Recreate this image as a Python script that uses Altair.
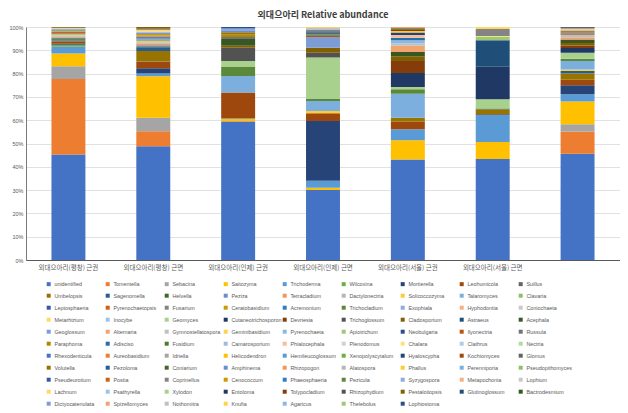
import colorsys
import altair as alt
import pandas as pd

# ---------------- data ----------------
GENERA = [
    "unidentified", "Tomentella", "Sebacina", "Saitozyma", "Trichoderma", "Wilcoxina", "Mortierella", "Leohumicola", "Suillus",
    "Umbelopsis", "Sagenomella", "Helvella", "Peziza", "Tetracladium", "Dactylonectria", "Solicoccozyma", "Talaromyces", "Clavaria",
    "Leptosphaeria", "Pyrenochaetopsis", "Fusarium", "Ceratobasidium", "Acremonium", "Trichocladium", "Exophiala", "Hyphodontia", "Coniochaeta",
    "Metarhizium", "Inocybe", "Geomyces", "Cutaneotrichosporon", "Devriesia", "Trichoglossum", "Cladosporium", "Astraeus", "Acephala",
    "Geoglossum", "Alternaria", "Gymnostellatospora", "Geminibasidium", "Pyrenochaeta", "Apiotrichum", "Neobulgaria", "Ilyonectria", "Russula",
    "Paraphoma", "Adisciso", "Fusidium", "Camarosporium", "Phialocephala", "Plenodomus", "Chalara", "Clathrus", "Nectria",
    "Rhexodenticula", "Aureobasidium", "Idriella", "Helicodendron", "Hemileucoglossum", "Xenopolyscytalum", "Hyaloscypha", "Kochiomyces", "Glomus",
    "Volutella", "Pezoloma", "Coniarium", "Amphinema", "Rhizopogon", "Alatospora", "Phallus", "Perenniporia", "Pseudopithomyces",
    "Pseudeurotium", "Postia", "Coprinellus", "Cenococcum", "Phaeosphaeria", "Pezicula", "Syzygospora", "Metapochonia", "Lophium",
    "Lachnum", "Psathyrella", "Xylodon", "Entoloma", "Tolypocladium", "Rhizophydium", "Pestalotiopsis", "Glutinoglossum", "Bactrodesmium",
    "Dictyocatenulata", "Spizellomyces", "Nothomitra", "Knufia", "Agaricus", "Thelebolus", "Lophiostoma",
]

SAMPLES = [
    "외대으아리(평창) 근권", "외대으아리(평창) 근면", "외대으아리(인제) 근권", "외대으아리(인제) 근면",
    "외대으아리(서울) 근권", "외대으아리(서울) 근면", " ",
]

pyeongchang_rhizo = {
    "unidentified": 45.4, "Tomentella": 32.4, "Sebacina": 5.5, "Saitozyma": 5.5, "Trichoderma": 2.9,
    "Wilcoxina": 0.9, "Mortierella": 0.4, "Leohumicola": 0.8, "Suillus": 0.3, "Umbelopsis": 0.3,
    "Sagenomella": 0.3, "Helvella": 0.7, "Peziza": 0.3, "Tetracladium": 0.4, "Dactylonectria": 0.3,
    "Solicoccozyma": 0.2, "Talaromyces": 0.3, "Clavaria": 0.3, "Leptosphaeria": 0.2, "Pyrenochaetopsis": 0.6,
    "Fusarium": 0.3, "Ceratobasidium": 0.3, "Acremonium": 0.2, "Trichocladium": 0.3, "Exophiala": 0.2,
    "Hyphodontia": 0.3, "Coniochaeta": 0.3, "Cladosporium": 0.3,
}
pyeongchang_surface = {
    "unidentified": 48.9, "Tomentella": 6.4, "Sebacina": 5.8, "Saitozyma": 17.8, "Trichoderma": 1.2,
    "Mortierella": 2.3, "Leohumicola": 2.7, "Suillus": 0.2, "Umbelopsis": 4.5, "Sagenomella": 1.4,
    "Helvella": 0.3, "Peziza": 0.8, "Tetracladium": 0.7, "Dactylonectria": 0.5, "Solicoccozyma": 0.6,
    "Talaromyces": 0.8, "Clavaria": 0.3, "Leptosphaeria": 0.5, "Pyrenochaetopsis": 0.3, "Fusarium": 0.4,
    "Ceratobasidium": 0.7, "Acremonium": 0.3, "Exophiala": 0.4, "Hyphodontia": 0.3, "Metarhizium": 0.6,
    "Inocybe": 0.3, "Devriesia": 0.4, "Cladosporium": 0.7,
}
inje_rhizo = {
    "unidentified": 59.2, "Tomentella": 0.3, "Sebacina": 0.2, "Saitozyma": 0.8, "Trichoderma": 0.3,
    "Leohumicola": 11.1, "Talaromyces": 7.1, "Trichocladium": 4.0, "Geomyces": 2.4, "Trichoglossum": 5.7,
    "Cladosporium": 0.9, "Acephala": 2.9, "Russula": 0.8, "Paraphoma": 1.2, "Volutella": 0.8,
    "Amphinema": 0.9, "Syzygospora": 0.8, "Lophiostoma": 0.6,
}
inje_surface = {
    "unidentified": 30.0, "Saitozyma": 1.0, "Trichoderma": 3.0, "Mortierella": 25.7, "Leohumicola": 3.3,
    "Solicoccozyma": 1.0, "Talaromyces": 4.2, "Trichocladium": 0.9, "Geomyces": 17.8, "Trichoglossum": 2.1,
    "Cladosporium": 2.1, "Geoglossum": 4.6, "Ilyonectria": 0.5, "Fusidium": 0.6, "Glomus": 0.7,
    "Pezoloma": 0.7, "Coprinellus": 0.5, "Nothomitra": 1.0, "Knufia": 0.3,
}
seoul_rhizo = {
    "unidentified": 43.1, "Saitozyma": 8.3, "Trichoderma": 4.7, "Leohumicola": 3.2, "Umbelopsis": 1.7,
    "Talaromyces": 10.4, "Trichocladium": 1.9, "Geomyces": 1.0, "Cutaneotrichosporon": 6.0, "Devriesia": 5.1,
    "Cladosporium": 2.0, "Acephala": 1.9, "Alternaria": 2.6, "Gymnostellatospora": 1.0, "Pyrenochaeta": 1.4,
    "Adisciso": 1.1, "Phialocephala": 1.2, "Hyaloscypha": 1.0, "Phallus": 0.7, "Tolypocladium": 0.6,
    "Spizellomyces": 0.5, "Bactrodesmium": 0.6,
}
seoul_surface = {
    "unidentified": 43.4, "Saitozyma": 7.2, "Trichoderma": 11.5, "Mortierella": 0.5, "Umbelopsis": 2.0,
    "Helvella": 0.4, "Geomyces": 4.0, "Cutaneotrichosporon": 13.9, "Astraeus": 11.4, "Apiotrichum": 1.4,
    "Chalara": 0.4, "Coprinellus": 3.0, "Lachnum": 0.9,
}
total = {
    "unidentified": 45.6, "Tomentella": 9.5, "Sebacina": 3.2, "Saitozyma": 9.7, "Trichoderma": 3.1,
    "Mortierella": 3.9, "Leohumicola": 2.4, "Umbelopsis": 2.6, "Sagenomella": 1.1, "Solicoccozyma": 0.7,
    "Talaromyces": 3.6, "Trichocladium": 1.0, "Geomyces": 2.6, "Cutaneotrichosporon": 2.0, "Devriesia": 1.1,
    "Cladosporium": 1.0, "Acephala": 1.5, "Alternaria": 1.0, "Gymnostellatospora": 0.6, "Pyrenochaeta": 0.5,
    "Ilyonectria": 0.5, "Russula": 0.6, "Paraphoma": 0.6, "Camarosporium": 0.4, "Phialocephala": 0.6,
    "Glomus": 0.6,
}
SAMPLE_VALUES = [pyeongchang_rhizo, pyeongchang_surface, inje_rhizo, inje_surface, seoul_rhizo, seoul_surface, total]

# ---------------- colours (Excel-like theme cycle) ----------------
BASE = ["#4472C4", "#ED7D31", "#A5A5A5", "#FFC000", "#5B9BD5", "#70AD47"]
MODS = [(1, 0), (0.6, 0), (0.8, 0.2), (0.8, 0), (0.6, 0.4), (0.5, 0), (0.7, 0.3), (0.7, 0), (0.5, 0.5)]


def shade(hexc, mod, off):
    r, g, b = [int(hexc[i:i + 2], 16) / 255 for i in (1, 3, 5)]
    h, l, s = colorsys.rgb_to_hls(r, g, b)
    l = min(1.0, l * mod + off)
    r, g, b = colorsys.hls_to_rgb(h, l, s)
    return "#%02x%02x%02x" % tuple(int(round(v * 255)) for v in (r, g, b))


COLORS = [shade(BASE[i % 6], *MODS[(i // 6) % 9]) for i in range(len(GENERA))]

rows = []
for sample, vals in zip(SAMPLES, SAMPLE_VALUES):
    for idx, g in enumerate(GENERA):
        if g in vals:
            rows.append({"sample": sample, "genus": g, "idx": idx, "value": vals[g]})
df = pd.DataFrame(rows)

LABEL_FONT = "Liberation Sans"
KR_FONT = "Noto Sans CJK KR"

chart = (
    alt.Chart(df)
    .mark_bar()
    .encode(
        x=alt.X(
            "sample:N",
            sort=SAMPLES,
            title=None,
            scale=alt.Scale(paddingInner=0.6, paddingOuter=0.3),
            axis=alt.Axis(
                labelAngle=0, labelFontSize=6.5, labelFont=KR_FONT, labelColor="#595959",
                ticks=False, domainColor="#595959", domainWidth=1, labelPadding=4,
            ),
        ),
        y=alt.Y(
            "value:Q",
            stack="normalize",
            title=None,
            scale=alt.Scale(domain=[0, 1]),
            axis=alt.Axis(
                format=".0%", values=[0, 0.1, 0.2, 0.3, 0.4, 0.5, 0.6, 0.7, 0.8, 0.9, 1.0],
                labelFontSize=5.5, labelFont=LABEL_FONT, labelColor="#595959",
                ticks=False, labelPadding=3, gridColor="#d9d9d9", gridWidth=0.8,
                domainColor="#595959", domainWidth=0.8,
            ),
        ),
        color=alt.Color(
            "genus:N",
            title=None,
            scale=alt.Scale(domain=GENERA, range=COLORS),
            legend=alt.Legend(
                orient="none", legendX=20, legendY=254, columns=9, direction="horizontal",
                gridAlign="all", symbolLimit=200,
                symbolType="square", symbolSize=16, symbolStrokeWidth=0,
                labelFontSize=5.4, labelFont=LABEL_FONT, labelColor="#595959",
                labelLimit=51, labelOffset=3, columnPadding=0, rowPadding=5,
            ),
        ),
        order=alt.Order("idx:Q", sort="ascending"),
    )
    .properties(
        width=594,
        height=233,
        padding={"top": 3, "left": 0, "right": 0, "bottom": 0},
        title=alt.TitleParams(
            "외대으아리 Relative abundance", fontSize=9, font=KR_FONT, fontWeight="bold",
            color="#404040", offset=5, anchor="middle",
        ),
    )
    .configure_view(stroke=None)
)

chart.save("out.html", embed_options={"renderer": "svg", "actions": False})
